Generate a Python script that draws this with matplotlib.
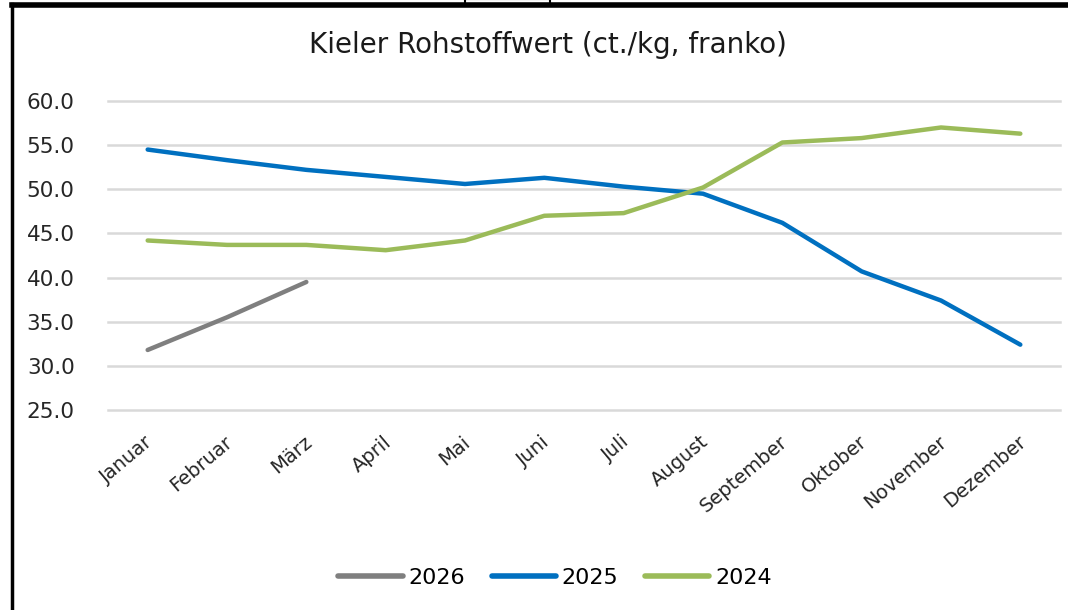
import matplotlib.pyplot as plt
from matplotlib.lines import Line2D
from matplotlib.patches import Rectangle
from matplotlib.transforms import ScaledTranslation

MONTHS = ["Januar", "Februar", "März", "April", "Mai", "Juni", "Juli",
          "August", "September", "Oktober", "November", "Dezember"]

VALUES_2026 = [31.8, 35.5, 39.5]
VALUES_2025 = [54.5, 53.3, 52.2, 51.4, 50.6, 51.3, 50.3, 49.5, 46.2, 40.7, 37.4, 32.4]
VALUES_2024 = [44.2, 43.7, 43.7, 43.1, 44.2, 47.0, 47.3, 50.2, 55.3, 55.8, 57.0, 56.3]

SERIES = [("2026", VALUES_2026, "#7f7f7f"),
          ("2025", VALUES_2025, "#0070c0"),
          ("2024", VALUES_2024, "#9bbb59")]

Y_TICKS = [25, 30, 35, 40, 45, 50, 55, 60]


def main():
    fig = plt.figure(figsize=(10.68, 6.10), dpi=100)
    W, H = 1068, 610
    ax = fig.add_axes([108 / W, 1 - 410 / H, (1060 - 108) / W, (410 - 101) / H])

    x = list(range(len(MONTHS)))
    for label, vals, color in SERIES:
        ax.plot(x[:len(vals)], vals, color=color, linewidth=3.2,
                solid_capstyle="round", label=label)

    ax.set_xlim(-0.5, len(MONTHS) - 0.5)
    ax.set_ylim(25, 60)
    ax.set_yticks(Y_TICKS)
    ax.set_yticklabels([f"{v:.1f}" for v in Y_TICKS], fontsize=15.5,
                       color="#262626")
    ax.yaxis.grid(True, color="#d9d9d9", linewidth=1.8)
    for g in ax.get_ygridlines():
        g.set_clip_on(False)
    ax.set_axisbelow(True)
    ax.tick_params(axis="y", length=0, pad=24)
    ax.tick_params(axis="x", length=0, pad=16)
    for s in ax.spines.values():
        s.set_visible(False)

    ax.set_xticks(x)
    ax.set_xticklabels(MONTHS, rotation=40, ha="right", va="top",
                       rotation_mode="anchor", fontsize=14, color="#262626")
    shift = ScaledTranslation(-3 / 100, 0, fig.dpi_scale_trans)
    for lbl in ax.get_xticklabels():
        lbl.set_transform(lbl.get_transform() + shift)

    fig.text(548 / W, 1 - 45 / H, "Kieler Rohstoffwert (ct./kg, franko)",
             ha="center", va="center", fontsize=20, color="#1a1a1a")

    leg = fig.legend(loc="center", bbox_to_anchor=(555 / W, 1 - 578 / H),
                     ncol=3, frameon=False, fontsize=16,
                     handlelength=2.9, handletextpad=0.25, columnspacing=1.2)
    for line in leg.get_lines():
        line.set_linewidth(4)

    # frame remnants from the screenshot
    fig.add_artist(Line2D([12 / W, 12 / W], [0, 1 - 4 / H], color="black",
                          linewidth=2.5, transform=fig.transFigure))
    fig.add_artist(Line2D([12 / W, 1], [1 - 4.5 / H, 1 - 4.5 / H],
                          color="black", linewidth=4, transform=fig.transFigure))
    fig.add_artist(Rectangle((465 / W, 1 - 5 / H), 85 / W, 6 / H,
                             facecolor="white", edgecolor="black",
                             linewidth=1.5, transform=fig.transFigure))

    fig.savefig("out.png", dpi=100)


if __name__ == "__main__":
    main()
